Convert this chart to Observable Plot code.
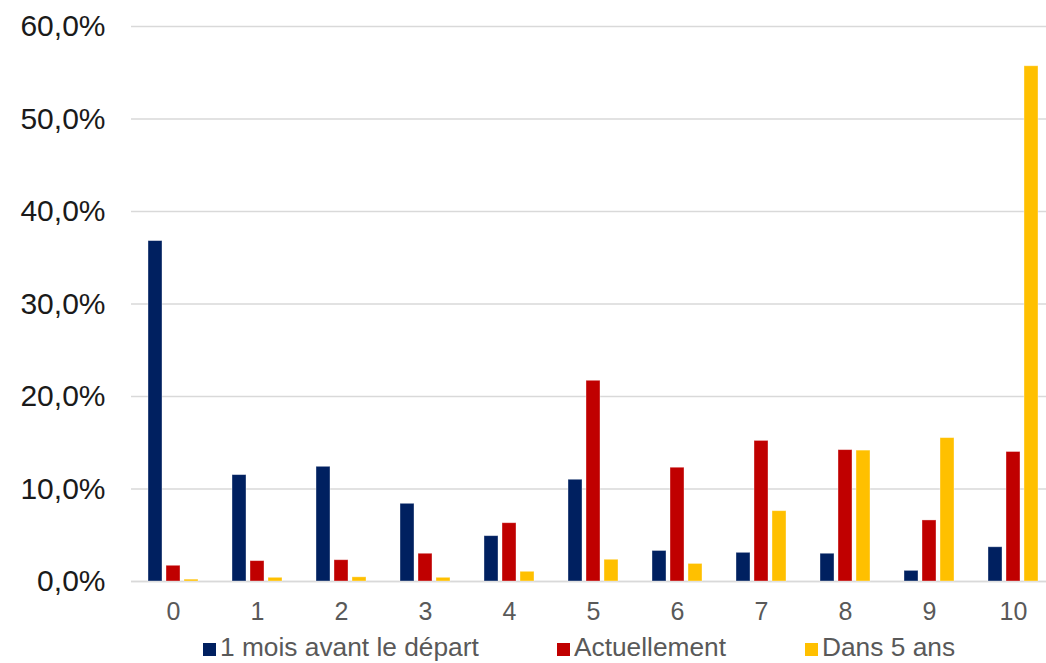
<!DOCTYPE html>
<html>
<head>
<meta charset="utf-8">
<script src="https://cdn.jsdelivr.net/npm/d3@7"></script>
<script src="https://cdn.jsdelivr.net/npm/@observablehq/plot@0.6"></script>
<style>
  html, body { margin: 0; padding: 0; background: #fff; overflow: hidden; }
  #wrap { position: relative; width: 1046px; height: 663px; overflow: hidden; }
  #chart { position: absolute; top: 0; left: 0; width: 1056px; }
  #chart svg { max-width: none !important; width: 1056px; height: 632px; }
  #legend { position: absolute; top: 632px; left: 0; width: 1046px; height: 31px;
            font-family: "Liberation Sans", Arial, sans-serif; font-size: 26.3px; color: #595959; }
  .item { position: absolute; top: 0; white-space: nowrap; line-height: 31px; }
  .sw { display: inline-block; width: 13px; height: 13px; margin-right: 4px; vertical-align: 0px; }
</style>
</head>
<body>
<div id="wrap"><div id="chart"></div><div id="legend"></div></div>
<script>
const categories = ["0","1","2","3","4","5","6","7","8","9","10"];
const seriesNames = ["1 mois avant le départ", "Actuellement", "Dans 5 ans"];
const seriesColors = ["#002060", "#C00000", "#FFC000"];
const moisAvant    = [36.8, 11.5, 12.4, 8.4, 4.9, 11.0, 3.3, 3.1, 3.0, 1.15, 3.7];
const actuellement = [1.7, 2.2, 2.3, 3.0, 6.3, 21.7, 12.3, 15.2, 14.2, 6.6, 14.0];
const dans5ans     = [0.2, 0.4, 0.45, 0.4, 1.05, 2.35, 1.9, 7.6, 14.15, 15.5, 55.7];
const yTicks = [0, 10, 20, 30, 40, 50, 60];
const legendLeft = [203, 557, 805];

const seriesValues = [moisAvant, actuellement, dans5ans];
const data = [];
categories.forEach((c, i) => {
  seriesNames.forEach((s, j) => data.push({cat: c, series: s, value: seriesValues[j][i]}));
});

const fmt = d => d.toFixed(1).replace(".", ",") + "%";

const chart = Plot.plot({
  width: 1056,
  height: 632,
  marginTop: 26,
  marginBottom: 51,
  marginLeft: 129,
  marginRight: 0,
  style: {fontFamily: "'Liberation Sans', Arial, sans-serif", background: "#fff", overflow: "visible", maxWidth: "none"},
  fx: {domain: categories, padding: 0},
  x: {domain: seriesNames, paddingInner: 0.23, paddingOuter: 0.86, axis: null},
  y: {domain: [0, 60]},
  color: {domain: seriesNames, range: seriesColors},
  marks: [
    Plot.gridY(yTicks, {stroke: "#d9d9d9", strokeOpacity: 1, strokeWidth: 1.3}),
    Plot.ruleY([0], {stroke: "#d9d9d9", strokeWidth: 1.5}),
    Plot.barY(data, {fx: "cat", x: "series", y: "value", fill: "series",
                     stroke: "#fff", strokeWidth: 0.8, strokeOpacity: 0.45}),
    Plot.axisY(yTicks, {tickSize: 0, tickPadding: 26, tickFormat: fmt, fontSize: 30, fill: "#1a1a1a", label: null}),
    Plot.axisFx({anchor: "bottom", tickSize: 0, tickPadding: 21, fontSize: 25, fill: "#595959", label: null})
  ]
});
document.getElementById("chart").appendChild(chart);

const legend = document.getElementById("legend");
seriesNames.forEach((s, j) => {
  const it = document.createElement("div");
  it.className = "item";
  it.style.left = legendLeft[j] + "px";
  const sw = document.createElement("span");
  sw.className = "sw";
  sw.style.background = seriesColors[j];
  it.appendChild(sw);
  it.appendChild(document.createTextNode(s));
  legend.appendChild(it);
});
</script>
</body>
</html>
